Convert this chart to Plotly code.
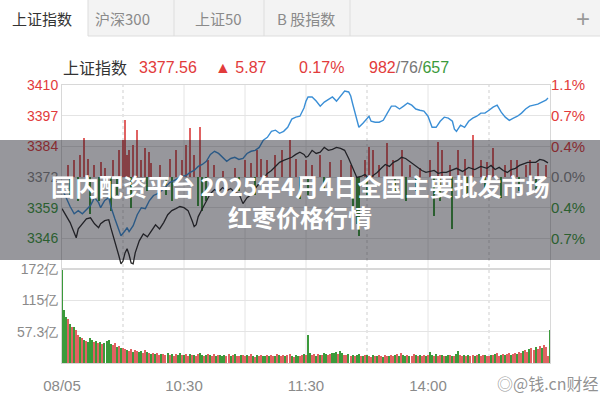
import plotly.graph_objects as go

# ---------------- data ----------------
prev_close = 3371.69
top_price = 3410.0
price_labels = ["3410", "3397", "3384", "3372", "3359", "3346"]
pct_labels = ["1.1%", "0.7%", "0.4%", "0.0%", "0.4%", "0.7%"]
label_side = [1, 1, 1, 0, -1, -1]  # above / at / below previous close

time_ticks = [0, 60, 120, 180, 240]
time_labels = ["08/05", "10:30", "11:30", "14:00", ""]
vgrid_solid = [60, 90, 120, 180]
vgrid_dot = [30, 150, 210]

vol_ticks = [171.9, 114.6, 57.3]
vol_labels = ["172亿", "115亿", "57.3亿"]

black_min = [0,2,4,6,7,8,10,12,14,16,18,19,21,23,24,26,28,29,30,31,32,33,34,35,36,38,40,42,44,46,
             48,50,52,54,56,58,60,62,64,65,66,67,69,71,73,75,77,79,81,83,85,87,89,91,93,95,97,99,101,103,
             105,107,109,111,113,115,117,119,120,121,123,125,127,129,131,133,135,137,139,141,143,145,147,149,151,153,155,157,159,161,
             163,165,167,169,171,173,175,177,179,181,183,185,187,189,191,194,197,200,203,206,209,211,213,215,217,219,221,223,225,227,
             229,231,233,235,237,239]
black_val = [3358.5,3355.6,3352.7,3348.5,3346.4,3350.1,3352.2,3354.3,3354.7,3352.2,
             3350.6,3352.2,3353.5,3353.9,3350.6,3345.1,3338.8,3335.5,3336.7,3340.1,
             3341.8,3339.3,3335.9,3335.5,3340.1,3345.1,3348.0,3346.8,3349.3,3351.8,
             3350.1,3352.7,3356.0,3357.7,3358.5,3359.4,3358.9,3357.7,3353.5,3351.0,
             3351.8,3355.2,3358.5,3361.9,3364.8,3366.5,3365.6,3367.3,3366.0,3366.9,
             3365.2,3364.8,3360.6,3363.1,3364.4,3366.9,3369.0,3371.1,3373.2,3374.4,
             3376.1,3377.8,3378.6,3379.4,3379.9,3381.1,3382.0,3381.1,3379.9,3380.3,
             3382.8,3381.5,3382.0,3384.0,3382.8,3383.2,3384.0,3383.6,3382.8,3379.4,
             3375.3,3371.5,3371.9,3372.7,3371.1,3372.3,3373.6,3375.3,3376.9,3376.1,
             3377.8,3378.6,3379.9,3379.4,3378.2,3376.9,3375.7,3374.4,3373.6,3374.0,
             3374.4,3373.2,3373.6,3373.6,3374.4,3375.3,3374.0,3375.7,3374.8,3376.1,
             3375.3,3376.5,3374.8,3375.7,3374.4,3373.6,3374.8,3375.3,3376.5,3377.3,
             3377.8,3377.8,3377.8,3379.0,3378.6,3377.56]

blue_min = [0,2,4,6,8,10,12,14,16,18,19,21,23,24,26,28,29,31,32,33,35,37,39,41,43,45,47,49,51,53,
            55,57,59,61,63,65,67,69,71,73,75,77,79,81,83,85,87,89,91,93,95,97,99,101,103,105,107,109,111,113,
            115,117,119,120,121,123,125,127,129,131,133,135,137,139,141,142,143,144,145,146,
            148,150,151,152,154,156,158,160,162,164,166,168,170,172,174,176,178,180,182,184,
            186,188,190,192,193,194,196,198,200,202,204,206,208,210,212,214,216,218,220,222,
            224,226,228,230,232,234,236,238,239]
blue_val = [3366.9,3363.1,3359.4,3356.4,3357.7,3356.4,3358.1,3359.8,3363.1,3361.0,
            3358.9,3361.9,3363.1,3359.4,3354.3,3349.3,3347.2,3349.3,3350.6,3348.9,
            3351.4,3356.0,3358.9,3358.5,3361.9,3364.0,3364.8,3366.0,3367.7,3369.4,
            3370.2,3371.1,3371.9,3372.3,3373.6,3374.4,3376.1,3376.9,3378.2,3381.1,
            3382.4,3381.5,3379.9,3378.2,3379.4,3379.9,3379.0,3379.4,3381.5,3382.4,
            3382.8,3384.0,3387.0,3388.2,3390.7,3391.2,3389.9,3390.7,3392.4,3395.8,
            3396.6,3397.0,3400.4,3403.3,3405.0,3405.0,3403.3,3401.2,3402.9,3404.1,
            3405.0,3403.3,3405.4,3407.5,3407.1,3405.4,3402.0,3398.7,3394.5,3392.4,
            3394.1,3396.2,3397.0,3394.9,3394.5,3394.5,3395.3,3398.3,3401.2,3401.2,
            3400.0,3401.2,3402.5,3401.6,3400.0,3399.5,3399.1,3397.0,3392.4,3392.4,
            3394.9,3396.6,3396.2,3394.9,3391.6,3390.7,3393.3,3392.4,3394.9,3396.2,
            3397.0,3398.3,3398.3,3399.5,3400.8,3401.6,3398.7,3396.6,3395.3,3396.2,
            3397.0,3398.3,3400.0,3401.2,3401.6,3402.0,3402.9,3403.7,3404.6]

bar_min = [3,4,6,8,9,11,13,14,16,18,19,21,24,25,27,28,30,31,32,33,34,35,37,39,41,42,43,44,48,51,
           53,54,56,59,61,63,65,67,68,69,71,72,75,79,85,87,90,93,95,96,98,101,105,108,112,115,117,120,121,123,
           127,129,132,137,142,143,145,146,149,150,151,153,156,160,163,164,167,169,171,174,176,181,183,185,186,187,191,192,195,198,
           199,202,206,208,209,212,216,218,221,224,225,228,230,233,234,238]
bar_delta = [4.8,-7.7,6.9,-9.8,9.0,16.1,7.7,-15.3,4.8,-9.8,6.1,3.6,-14.0,6.9,-7.7,11.1,15.3,23.7,9.0,11.1,
             -12.8,13.2,19.5,6.9,11.9,-5.7,10.3,5.7,4.8,-7.7,
             7.7,-9.8,11.1,6.9,13.2,20.3,9.0,-11.9,20.7,-14.0,-9.8,6.9,4.8,2.7,3.6,-5.7,6.9,5.7,-7.7,11.1,
             7.7,6.9,9.0,11.1,15.3,7.7,-9.0,6.9,-7.7,4.8,
             9.0,-5.7,6.1,6.9,4.8,-16.1,-19.5,-24.5,6.9,-7.7,12.3,11.1,4.8,14.0,6.9,-5.7,11.1,-9.8,4.8,-5.7,
             3.6,6.9,-16.1,14.4,-9.8,11.1,4.8,-21.6,11.1,7.7,
             -6.9,17.4,6.9,-5.7,6.1,11.9,-8.6,4.8,6.9,6.9,-5.7,4.8,6.9,-4.8,5.7,4.8]

vol = [170,97,84,80,72,66,66,60,51,48,
       46,42,40,39,46,42,38,40,36,38,
       34,36,40,42,35,33,36,30,32,28,
       27,25,24,22,25,21,24,22,20,22,
       18,24,20,19,17,18,16,19,15,17,
       16,14,18,15,17,13,16,14,18,15,
       14,16,13,17,15,14,12,16,18,14,
       13,15,17,14,12,16,13,15,14,12,
       15,13,16,12,14,17,13,12,15,14,
       12,14,13,16,12,11,14,13,15,12,
       13,14,12,15,13,12,16,14,13,15,
       12,14,16,13,11,15,13,12,14,16,
       15,51,18,14,16,13,17,15,14,18,
       16,15,17,19,18,20,16,22,18,15,
       14,16,13,15,12,14,16,13,12,15,
       14,12,11,14,13,12,15,13,11,14,
       12,13,15,12,14,16,13,18,14,12,
       15,13,12,16,14,13,15,12,14,13,
       15,20,14,12,16,13,15,14,12,13,
       15,14,13,12,16,22,14,13,15,12,
       14,13,15,12,14,16,13,15,14,12,
       13,15,14,16,18,13,15,17,14,16,
       18,15,17,19,16,20,18,22,24,21,
       25,27,23,29,26,31,28,33,30,12,
       60]
vol_dir = ("gggrgrgrrg" "rgrgggrgrg" "rggggrrgrg" "rrgrrgrrgg" "rrgrgrgrrg" "rrgrgrrggr"
           "grrgrgrrgg" "rgrgrrgrgg" "grrgrgrrgr" "rgrrgrgrrg" "grgrrgrgrr" "grrgrggrrg"
           "rggrrgrgrg" "grrgggrggr" "rgrgrggrgr" "grrgrgrrgr" "rgrrgrgrgg" "rgrrgrgrrg"
           "rggrgrrgrg" "grgrggrrgr" "grrgrgrrgr" "rgrgrrgrgr" "rgrrgrrgrr" "grrgrrgrrr" "g")
vol_min = list(range(len(vol)))

# ---------------- styling ----------------
RED = "#e23b3b"
BAR_RED = "#e06262"
GREEN = "#3b9a3b"
GRID = "#e4e4e4"
NUM_FONT = "Liberation Sans Narrow, Liberation Sans, Arial, sans-serif"
CJK_FONT = "Noto Sans CJK SC, sans-serif"
W, H = 600, 400
PX0, PX1 = 62, 550
MAIN_TOP, MAIN_BOT, VOL_BOT = 85, 269, 363


def py(y):
    return 1 - y / H


def px(x):
    return x / W


step = (top_price - prev_close) / 3
tick_pos = [prev_close + step * k for k in (3, 2, 1, 0, -1, -2)]
low_price = prev_close - 3 * step


def colored(txt, side):
    c = RED if side > 0 else (GREEN if side < 0 else "#888888")
    return f"<span style='color:{c}'>{txt}</span>"


fig = go.Figure()

fig.add_trace(go.Bar(
    x=bar_min, y=bar_delta, base=prev_close,
    marker=dict(color=[BAR_RED if d > 0 else GREEN for d in bar_delta], line=dict(width=0)),
    width=0.55, xaxis="x", yaxis="y", showlegend=False, hoverinfo="skip"))
fig.add_trace(go.Scatter(x=blue_min, y=blue_val, mode="lines",
                         line=dict(color="#3b8fd6", width=1.4), xaxis="x", yaxis="y",
                         showlegend=False))
fig.add_trace(go.Scatter(x=black_min, y=black_val, mode="lines",
                         line=dict(color="#2b2b2b", width=1.3), xaxis="x", yaxis="y",
                         showlegend=False))
fig.add_trace(go.Scatter(x=[0], y=[prev_close], mode="markers", marker=dict(opacity=0),
                         xaxis="x", yaxis="y3", showlegend=False, hoverinfo="skip"))
fig.add_trace(go.Bar(
    x=vol_min, y=vol,
    marker=dict(color=[BAR_RED if c == "r" else GREEN for c in vol_dir], line=dict(width=0)),
    width=0.7, xaxis="x2", yaxis="y2", showlegend=False, hoverinfo="skip"))

shapes = []
# tab bar
shapes.append(dict(type="rect", xref="paper", yref="paper", x0=0, x1=1, y0=py(36), y1=1,
                   fillcolor="#f3f3f3", line=dict(width=0), layer="below"))
shapes.append(dict(type="rect", xref="paper", yref="paper", x0=0, x1=px(88), y0=py(36), y1=1,
                   fillcolor="#ffffff", line=dict(width=0), layer="below"))
for sx in (88, 174, 264, 350):
    shapes.append(dict(type="line", xref="paper", yref="paper", x0=px(sx), x1=px(sx),
                       y0=py(36), y1=1, line=dict(color="#dddddd", width=1), layer="below"))
shapes.append(dict(type="line", xref="paper", yref="paper", x0=px(88), x1=1, y0=py(36), y1=py(36),
                   line=dict(color="#dddddd", width=1), layer="below"))
# vertical grid
for m in vgrid_solid:
    shapes.append(dict(type="line", xref="x", yref="paper", x0=m, x1=m, y0=py(VOL_BOT), y1=py(MAIN_TOP),
                       line=dict(color=GRID, width=1), layer="below"))
for m in vgrid_dot:
    shapes.append(dict(type="line", xref="x", yref="paper", x0=m, x1=m, y0=py(VOL_BOT), y1=py(MAIN_TOP),
                       line=dict(color="#cfcfcf", width=1, dash="dot"), layer="below"))
# banner overlay
shapes.append(dict(type="rect", xref="paper", yref="paper", x0=0, x1=1, y0=py(260), y1=py(140),
                   fillcolor="rgba(25,25,35,0.45)", line=dict(width=0), layer="above"))

ann = []
tabs = [("上证指数", 42, "#333333"), ("沪深300", 122, "#8a8a8a"), ("上证50", 218, "#8a8a8a"),
        ("B 股指数", 306, "#8a8a8a")]
for t, x, c in tabs:
    ann.append(dict(text=t, x=px(x), y=py(19), xref="paper", yref="paper", showarrow=False,
                    xanchor="center", yanchor="middle", font=dict(family=CJK_FONT, size=15, color=c)))
ann.append(dict(text="+", x=px(583), y=py(18), xref="paper", yref="paper", showarrow=False,
                xanchor="center", yanchor="middle", font=dict(family=NUM_FONT, size=24, color="#999999")))

hdr_y = py(67)
ann.append(dict(text="上证指数", x=px(61), y=hdr_y, xref="paper", yref="paper", showarrow=False,
                xanchor="left", yanchor="middle", font=dict(family=CJK_FONT, size=16, color="#333333")))
for t, x in (("3377.56", 137), ("▲ 5.87", 213), ("0.17%", 297)):
    ann.append(dict(text=t, x=px(x), y=hdr_y, xref="paper", yref="paper", showarrow=False,
                    xanchor="left", yanchor="middle", font=dict(family=NUM_FONT, size=16, color=RED)))
ann.append(dict(text=f"<span style='color:{RED}'>982</span><span style='color:#777777'>/76/</span>"
                     f"<span style='color:{GREEN}'>657</span>",
                x=px(367), y=hdr_y, xref="paper", yref="paper", showarrow=False,
                xanchor="left", yanchor="middle", font=dict(family=NUM_FONT, size=16)))

# banner text
ann.append(dict(text="<b>国内配资平台 2025年4月4日全国主要批发市场</b>", x=0.5, y=py(185),
                xref="paper", yref="paper", showarrow=False, xanchor="center", yanchor="middle",
                font=dict(family=CJK_FONT, size=24, color="#ffffff")))
ann.append(dict(text="<b>红枣价格行情</b>", x=0.5, y=py(216),
                xref="paper", yref="paper", showarrow=False, xanchor="center", yanchor="middle",
                font=dict(family=CJK_FONT, size=24, color="#ffffff")))
# watermark
ann.append(dict(text="◎@钱.cn财经", x=px(548), y=py(383), xref="paper", yref="paper", showarrow=False,
                xanchor="center", yanchor="middle",
                font=dict(family=CJK_FONT, size=16, color="rgba(110,110,110,0.75)")))

axis_common = dict(showline=True, linecolor="#d8d8d8", linewidth=1, mirror=True, zeroline=False)

fig.update_layout(
    width=W, height=H, margin=dict(l=0, r=0, t=0, b=0),
    paper_bgcolor="white", plot_bgcolor="white", bargap=0, barmode="overlay",
    shapes=shapes, annotations=ann, showlegend=False,
    xaxis=dict(domain=[px(PX0), px(PX1)], range=[0, 240], anchor="y", showticklabels=False,
               showgrid=False, ticks="", **axis_common),
    yaxis=dict(domain=[py(MAIN_BOT), py(MAIN_TOP)], range=[low_price, top_price], anchor="x",
               tickvals=tick_pos, ticktext=[colored(t, s) for t, s in zip(price_labels, label_side)],
               showgrid=True, gridcolor=GRID, ticks="", automargin=False,
               tickfont=dict(family=NUM_FONT, size=14), **axis_common),
    yaxis3=dict(overlaying="y", side="right", anchor="x", range=[low_price, top_price],
                tickvals=tick_pos, ticktext=[colored(t, s) for t, s in zip(pct_labels, label_side)],
                showgrid=False, ticks="", showline=False, zeroline=False, automargin=False,
                tickfont=dict(family=NUM_FONT, size=15)),
    xaxis2=dict(domain=[px(PX0), px(PX1)], range=[0, 240], anchor="y2", tickvals=time_ticks,
                ticktext=time_labels, showgrid=False, ticks="outside", ticklen=9,
                tickcolor="rgba(0,0,0,0)", automargin=False,
                tickfont=dict(family=NUM_FONT, size=15, color="#8a8a8a"), **axis_common),
    yaxis2=dict(domain=[py(VOL_BOT), py(MAIN_BOT)], range=[0, 172.3], anchor="x2",
                tickvals=vol_ticks, ticktext=vol_labels, showgrid=True, gridcolor=GRID, ticks="",
                automargin=False, tickfont=dict(family=NUM_FONT, size=14, color="#8a8a8a"),
                **axis_common),
)

fig.write_html("out.html", config={"displayModeBar": False},
               post_script="document.body.style.margin='0';")
